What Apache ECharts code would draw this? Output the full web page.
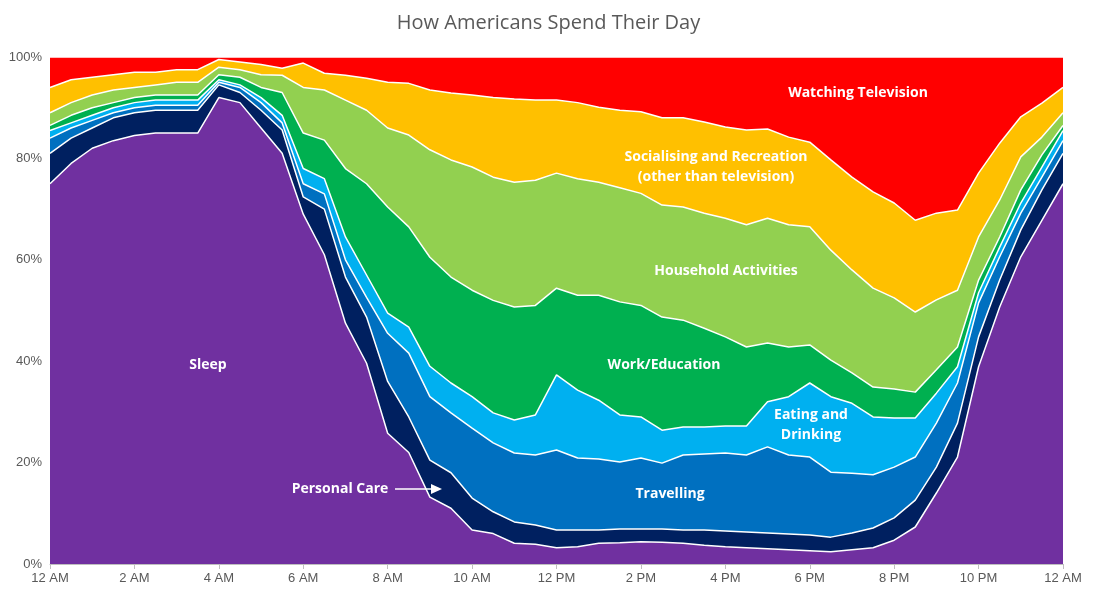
<!DOCTYPE html>
<html><head><meta charset="utf-8">
<script src="https://cdn.jsdelivr.net/npm/echarts@6/dist/echarts.min.js"></script>
<style>html,body{margin:0;padding:0;background:#fff}#c{width:1097px;height:599px}</style>
</head><body><div id="c"></div>
<script>
// half-hourly times, 12 AM to 12 AM
const times = ["12 AM","12:30","1 AM","1:30","2 AM","2:30","3 AM","3:30","4 AM","4:30","5 AM","5:30","6 AM","6:30","7 AM","7:30","8 AM","8:30","9 AM","9:30","10 AM","10:30","11 AM","11:30","12 PM","12:30","2 PM_","1:30","2 PM","2:30","3 PM","3:30","4 PM","4:30","5 PM","5:30","6 PM","6:30","7 PM","7:30","8 PM","8:30","9 PM","9:30","10 PM","10:30","11 PM","11:30","12 AM "];
const tickLabels = ["12 AM","2 AM","4 AM","6 AM","8 AM","10 AM","12 PM","2 PM","4 PM","6 PM","8 PM","10 PM","12 AM"];
// cumulative tops of each layer (%)
const sleepTop = [75,79,82,83.5,84.5,85,85,85,92,91,86,81,69,61,47.5,39.6,25.8,22,13.2,11,6.7,6,4.1,3.9,3.2,3.4,4.1,4.2,4.4,4.3,4.1,3.7,3.4,3.2,3,2.8,2.6,2.4,2.8,3.2,4.7,7.3,14,21.1,38.9,50.7,60.6,67.8,75];
const personalCareTop = [81,84,86,88,89,89.5,89.5,89.5,94.5,93,89.5,85.6,72.4,70,56.6,48.7,36,29,20.5,18,13,10.3,8.3,7.7,6.7,6.7,6.7,6.9,6.9,6.9,6.7,6.7,6.5,6.3,6.1,5.9,5.7,5.3,6.1,7.1,9.1,12.6,19.1,27.8,44.8,56,65.9,73.8,81];
const travellingTop = [84,86,87.5,89,90,90.5,90.5,90.5,95,94,91,87,75,73,60,52.6,45.5,41.6,33,29.8,26.8,23.9,21.9,21.5,22.5,20.9,20.7,20.1,20.9,19.9,21.5,21.7,21.9,21.5,23.1,21.5,21.1,18.1,17.9,17.6,19.1,21.1,27.8,35.7,51.5,60.6,69.2,76.3,83.5];
const eatingTop = [85.5,87,88.5,90,91,91.5,91.5,91.5,95.5,94.5,92,88.5,78,76,64.5,57,49.5,46.7,39,35.7,33,29.8,28.4,29.4,37.3,34.3,32.3,29.4,29,26.4,27,27,27.2,27.2,32,33,35.7,33,31.7,29,28.8,28.8,33.7,38.9,53.5,62.5,71.2,78.3,85.5];
const workTop = [86.5,88.5,90,91,92,92.5,92.5,92.5,96.5,96,94,93,85,83.6,78,75,70.4,66.5,60.5,56.6,54,52,50.7,51,54.4,53,53,51.7,51,48.7,48.1,46.5,44.8,42.8,43.6,42.8,43.2,40.2,37.7,34.9,34.5,33.9,38.3,42.8,56,64.5,73.8,80.7,86.5];
const householdTop = [89,91,92.5,93.5,94,94.5,95,95,98,97.5,96.5,96.4,94,93.5,91.5,89.5,86,84.6,81.7,79.7,78.3,76.3,75.3,75.7,77.1,76,75.3,74.2,73.1,70.8,70.4,69.2,68.2,66.9,68.2,66.9,66.5,61.9,58,54.4,52.5,49.7,52.1,54,64.5,71.8,80.3,84.2,89];
const socialisingTop = [94,95.5,96,96.5,97,97,97.5,97.5,99.5,99,98.5,97.8,98.8,96.8,96.4,95.8,95,94.8,93.5,92.9,92.5,92,91.7,91.5,91.5,91,90.1,89.5,89.2,88,88,87.2,86.2,85.6,85.8,84.2,83.2,79.7,76.3,73.4,71.2,67.8,69.2,69.8,77.1,83,88.2,90.9,94];
const televisionTop = times.map(() => 100);

const layers = [
  ["Watching Television", televisionTop, "#ff0000"],
  ["Socialising and Recreation", socialisingTop, "#ffc000"],
  ["Household Activities", householdTop, "#92d050"],
  ["Work/Education", workTop, "#00b050"],
  ["Eating and Drinking", eatingTop, "#00b0f0"],
  ["Travelling", travellingTop, "#0070c0"],
  ["Personal Care", personalCareTop, "#002060"],
  ["Sleep", sleepTop, "#7030a0"]
];
const chart = echarts.init(document.getElementById('c'));
const lbl = (x, y, t, extra) => Object.assign({type:'text', x, y, style:{text:t, fill:'#fff', font:'bold 14px "Open Sans", sans-serif', align:'center', verticalAlign:'middle', lineHeight:20}, z:100}, extra||{});
chart.setOption({
  animation:false,
  title:{text:'How Americans Spend Their Day', left:'center', top:8, textStyle:{color:'#595959', fontSize:20, fontWeight:'normal', fontFamily:'"Open Sans", sans-serif'}},
  grid:{left:50, right:34, top:57, bottom:35},
  xAxis:{type:'category', boundaryGap:false, data:times,
    axisLine:{lineStyle:{color:'#bfbfbf'}}, axisTick:{interval:3, lineStyle:{color:'#bfbfbf'}},
    axisLabel:{interval:3, color:'#595959', fontSize:13, formatter:(v, i) => tickLabels[i/4]}},
  yAxis:{type:'value', min:0, max:100, interval:20, axisLabel:{formatter:'{value}%', color:'#595959', fontSize:13},
    splitLine:{show:false}, axisLine:{show:false}, axisTick:{show:false}},
  series: layers.map((l, i) => ({name:l[0], type:'line', data:l[1], symbol:'none', z:2+i,
    lineStyle:{color:'#fff', width:1.5}, areaStyle:{color:l[2], opacity:1}})),
  graphic:[
    lbl(208,365,'Sleep'),
    lbl(340,489,'Personal Care'),
    {type:'line', shape:{x1:395,y1:489,x2:432,y2:489}, style:{stroke:'#fff', lineWidth:1.5}, z:100},
    {type:'polygon', shape:{points:[[442,489],[431,484],[431,494]]}, style:{fill:'#fff'}, z:100},
    lbl(670,494,'Travelling'),
    lbl(811,425,'Eating and\nDrinking'),
    lbl(664,365,'Work/Education'),
    lbl(726,271,'Household Activities'),
    lbl(716,167,'Socialising and Recreation\n(other than television)'),
    lbl(858,93,'Watching Television')
  ]
});
</script></body></html>
